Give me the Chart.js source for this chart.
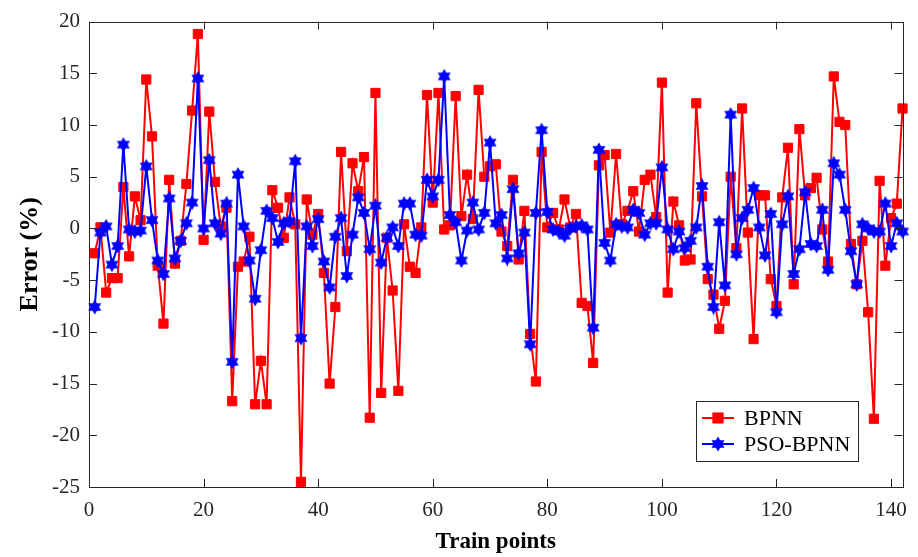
<!DOCTYPE html>
<html>
<head>
<meta charset="utf-8">
<script src="https://cdn.jsdelivr.net/npm/chart.js@4.4.1/dist/chart.umd.min.js"></script>
<style>
  html, body { margin: 0; padding: 0; background: #fff; }
  #wrap { width: 918px; height: 557px; }
</style>
</head>
<body>
<div id="wrap"><canvas id="errChart" width="918" height="557"></canvas></div>
<script>
const seriesNames = ["BPNN", "PSO-BPNN"];

// error (%) per train point, points 1..142
const bpnn = [
  -2.4, 0.1, -6.2, -4.8, -4.8, 4.0, -2.7, 3.1, 0.8, 14.4,
  8.9, -3.6, -9.2, 4.7, -3.4, -1.2, 4.3, 11.4, 18.8, -1.1,
  11.3, 4.5, 0.2, 2.0, -16.7, -3.7, -3.2, -0.8, -17.0, -12.8,
  -17.0, 3.7, 2.0, -0.9, 3.0, 0.4, -24.5, 2.8, -0.6, 1.4,
  -4.3, -15.0, -7.6, 7.4, -2.2, 6.3, 3.6, 6.9, -18.3, 13.1,
  -15.9, -0.9, -6.0, -15.7, 0.4, -3.7, -4.3, 0.1, 12.9, 2.5,
  13.1, -0.1, 0.3, 12.8, 1.2, 5.2, 0.9, 13.4, 5.0, 6.0,
  6.2, -0.3, -1.7, 4.7, -3.0, 1.7, -10.2, -14.8, 7.4, 0.1,
  1.5, -0.1, 2.8, 0.1, 1.4, -7.2, -7.5, -13.0, 6.1, 7.1,
  -0.4, 7.2, 0.4, 1.7, 3.6, -0.3, 4.7, 5.2, 1.1, 14.1,
  -6.2, 2.6, 0.3, -3.1, -3.0, 12.1, 3.1, -4.9, -6.4, -9.7,
  -7.0, 5.0, -1.9, 11.6, -0.4, -10.7, 3.2, 3.2, -4.9, -7.5,
  3.0, 7.8, -5.4, 9.6, 3.2, 3.9, 4.9, -0.1, -3.2, 14.7,
  10.3, 10.0, -1.5, -5.4, -1.2, -8.1, -18.4, 4.6, -3.6, 1.0,
  2.4, 11.6
];
const psoBpnn = [
  -7.6, -0.4, 0.2, -3.5, -1.7, 8.1, -0.1, -0.3, -0.2, 6.0,
  0.8, -3.1, -4.4, 2.9, -2.9, -1.2, 0.5, 2.5, 14.5, 0.0,
  6.6, 0.5, -0.5, 2.4, -12.9, 5.2, 0.2, -3.1, -6.8, -2.1,
  1.7, 1.0, -1.3, 0.5, 0.7, 6.5, -10.6, 0.2, -1.7, 0.9,
  -3.2, -5.7, -0.8, 1.0, -4.6, -0.6, 3.0, 1.5, -2.0, 2.2,
  -3.3, -0.9, 0.1, -1.7, 2.4, 2.4, -0.6, -0.7, 4.7, 3.1,
  4.7, 14.7, 1.3, 0.6, -3.1, -0.2, 2.5, -0.1, 1.5, 8.3,
  0.5, 1.3, -2.9, 3.8, -2.4, -0.4, -11.2, 1.5, 9.5, 1.6,
  -0.1, -0.3, -0.7, 0.0, 0.2, 0.3, -0.1, -9.6, 7.6, -1.4,
  -3.1, 0.4, 0.2, 0.1, 1.8, 1.5, -0.6, 0.5, 0.5, 5.9,
  -0.1, -2.0, -0.3, -1.9, -1.2, 0.1, 4.1, -3.7, -7.6, 0.6,
  -5.5, 11.0, -2.5, 1.0, 1.8, 3.9, 0.1, -2.6, 1.4, -8.1,
  0.4, 3.1, -4.4, -2.0, 3.5, -1.5, -1.7, 1.8, -4.0, 6.3,
  5.2, 1.8, -2.2, -5.4, 0.4, 0.0, -0.3, -0.3, 2.4, -1.7,
  0.5, -0.3
];

const xTicks = [0, 20, 40, 60, 80, 100, 120, 140];
const yTicks = [-25, -20, -15, -10, -5, 0, 5, 10, 15, 20];

const axisColor = "#262626";
const serif = "'Liberation Serif', 'Times New Roman', serif";

// MATLAB-like hexagram marker
function hexagram(size, color) {
  const c = document.createElement("canvas");
  c.width = c.height = size;
  const g = c.getContext("2d");
  const r = size / 2 - 0.5, cx = size / 2, cy = size / 2;
  g.fillStyle = color;
  g.strokeStyle = "#2020ff";
  g.lineWidth = 1;
  [-Math.PI / 2, Math.PI / 2].forEach(start => {
    g.beginPath();
    for (let k = 0; k < 3; k++) {
      const a = start + k * 2 * Math.PI / 3;
      const px = cx + r * Math.cos(a), py = cy + r * Math.sin(a);
      if (k) g.lineTo(px, py); else g.moveTo(px, py);
    }
    g.closePath();
    g.fill();
  });
  return c;
}
const starMarker = hexagram(16, "#0000ff");

const toPoints = arr => arr.map((v, i) => ({ x: i + 1, y: v }));

// box + inward ticks on all four sides
const framePlugin = {
  id: "frame",
  afterDatasetsDraw(chart) {
    const { ctx, chartArea: a, scales: { x, y } } = chart;
    const tl = 8;
    ctx.save();
    ctx.strokeStyle = axisColor;
    ctx.lineWidth = 1;
    ctx.strokeRect(Math.round(a.left) + 0.5, Math.round(a.top) + 0.5,
      Math.round(a.right - a.left), Math.round(a.bottom - a.top));
    ctx.beginPath();
    x.ticks.forEach(t => {
      const px = Math.round(x.getPixelForValue(t.value)) + 0.5;
      ctx.moveTo(px, a.bottom); ctx.lineTo(px, a.bottom - tl);
      ctx.moveTo(px, a.top); ctx.lineTo(px, a.top + tl);
    });
    y.ticks.forEach(t => {
      const py = Math.round(y.getPixelForValue(t.value)) + 0.5;
      ctx.moveTo(a.left, py); ctx.lineTo(a.left + tl, py);
      ctx.moveTo(a.right, py); ctx.lineTo(a.right - tl, py);
    });
    ctx.stroke();
    ctx.restore();
  }
};

// legend box inside the plot, lower right
const boxLegend = {
  id: "boxLegend",
  afterDraw(chart) {
    const { ctx } = chart;
    const bx = 696, by = 401, bw = 162, bh = 60;
    ctx.save();
    ctx.fillStyle = "#fff";
    ctx.fillRect(bx, by, bw, bh);
    ctx.strokeStyle = axisColor;
    ctx.lineWidth = 1;
    ctx.strokeRect(bx + 0.5, by + 0.5, bw, bh);
    chart.data.datasets.forEach((ds, i) => {
      const ly = by + 17 + i * 26;
      ctx.strokeStyle = ds.borderColor;
      ctx.lineWidth = ds.borderWidth;
      ctx.beginPath();
      ctx.moveTo(bx + 6, ly); ctx.lineTo(bx + 38, ly);
      ctx.stroke();
      Chart.helpers.drawPoint(ctx, {
        pointStyle: ds.pointStyle, radius: ds.pointRadius, rotation: 0,
        borderWidth: ds.pointBorderWidth
      }, bx + 22, ly);
      if (ds.pointStyle === "rect") {
        ctx.fillStyle = ds.pointBackgroundColor;
        ctx.strokeStyle = ds.pointBorderColor;
        ctx.lineWidth = ds.pointBorderWidth;
        ctx.fill();
        ctx.stroke();
      }
      ctx.fillStyle = "#000";
      ctx.font = "22px " + serif;
      ctx.textBaseline = "middle";
      ctx.fillText(ds.label, bx + 48, ly + 1);
    });
    ctx.restore();
  }
};

new Chart(document.getElementById("errChart"), {
  type: "line",
  data: {
    datasets: [
      {
        label: seriesNames[0],
        data: toPoints(bpnn),
        borderColor: "#ff0000",
        borderWidth: 2,
        pointStyle: "rect",
        pointRadius: 6.5,
        pointBackgroundColor: "#ff0000",
        pointBorderColor: "#ff0000",
        pointBorderWidth: 1,
        tension: 0,
        clip: false,
        order: 2
      },
      {
        label: seriesNames[1],
        data: toPoints(psoBpnn),
        borderColor: "#0000ff",
        borderWidth: 2,
        pointStyle: starMarker,
        pointRadius: 7,
        pointBorderWidth: 0,
        tension: 0,
        clip: false,
        order: 1
      }
    ]
  },
  options: {
    responsive: false,
    animation: false,
    events: [],
    devicePixelRatio: 1,
    layout: { padding: { top: 20, right: 13, left: 0, bottom: 0 } },
    plugins: { legend: { display: false }, tooltip: { enabled: false } },
    scales: {
      x: {
        type: "linear",
        min: 0,
        max: 142,
        grid: { display: false, drawTicks: false },
        border: { display: false },
        afterBuildTicks: s => { s.ticks = xTicks.map(v => ({ value: v })); },
        afterFit: s => { s.height = 70; },
        ticks: {
          color: axisColor,
          font: { family: serif, size: 21 },
          padding: 11,
          maxRotation: 0
        },
        title: {
          display: true,
          text: "Train points",
          color: "#000",
          font: { family: serif, size: 23, weight: "bold" },
          padding: { top: 0, bottom: 1 }
        }
      },
      y: {
        min: -25,
        max: 20,
        grid: { display: false, drawTicks: false },
        border: { display: false },
        afterBuildTicks: s => { s.ticks = yTicks.map(v => ({ value: v })); },
        afterFit: s => { s.width = 89; },
        ticks: {
          color: axisColor,
          font: { family: serif, size: 21 },
          padding: 9
        },
        title: {
          display: true,
          text: "Error (%)",
          color: "#000",
          font: { family: serif, size: 26, weight: "bold" },
          padding: { top: 15, bottom: 0 }
        }
      }
    }
  },
  plugins: [framePlugin, boxLegend]
});
</script>
</body>
</html>
